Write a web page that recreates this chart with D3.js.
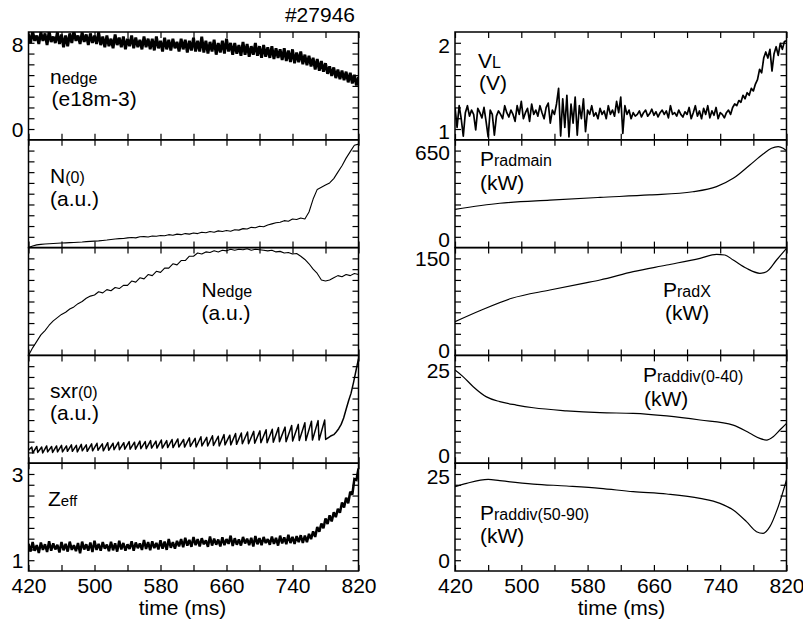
<!DOCTYPE html>
<html><head><meta charset="utf-8">
<script src="https://cdn.jsdelivr.net/npm/d3@7"></script>
<style>
body{margin:0;background:#fff}
svg{display:block}
text{font-family:"Liberation Sans",Arial,Helvetica,sans-serif;fill:#000}
</style>
</head><body>
<svg id="c" width="803" height="623"></svg>
<script>
// ---------------- DATA ----------------
const timeDomain = [420, 820];
const timeTicks = [420,460,500,540,580,620,660,700,740,780,820];
const timeLabels = [420,500,580,660,740,820];
const shotLabel = "#27946";
const xTitle = "time (ms)";

// common sample grids (ms)
const t5 = d3.range(420, 820.1, 5);
const t25 = d3.range(420, 820.1, 2.5);

// n_edge (e18 m-3), noisy trace every 2.5 ms
const nedgeDomain = [-1.0, 9.13];
const nedgeYLabels = [0, 8];
const nedge = [8.9,8.1,9.2,8.3,8.8,8.0,9.1,8.3,9.0,7.9,9.2,8.2,8.7,8.1,9.1,8.0,8.9,7.7,8.8,7.8,9.0,8.1,9.2,8.3,8.8,8.0,9.1,8.2,8.9,7.9,9.0,8.1,8.8,8.0,9.1,
  7.9,8.7,7.7,8.8,7.8,8.5,7.6,8.9,7.9,8.6,7.7,8.7,7.5,8.5,7.8,8.8,7.6,8.6,7.7,8.4,7.5,8.7,7.7,8.5,
  7.5,8.5,7.4,8.7,7.6,8.3,7.3,8.6,7.5,8.4,7.4,8.5,7.6,8.2,7.3,8.5,7.5,8.4,7.2,8.3,7.4,8.6,7.3,8.3,
  7.3,8.7,7.2,8.3,7.1,8.2,7.3,8.4,7.0,8.1,7.2,8.3,7.1,8.5,7.3,8.1,
  7.0,8.1,7.1,7.9,6.9,8.2,7.0,8.0,6.8,7.8,7.0,8.1,6.9,7.8,6.7,7.9,6.8,7.7,6.7,7.8,6.6,7.6,6.7,7.5,
  6.5,7.6,6.4,7.4,6.3,7.5,6.2,7.2,6.3,7.3,6.1,7.0,6.0,6.9,5.9,6.7,
  5.6,6.6,5.5,6.4,5.4,6.2,5.2,5.9,
  5.0,5.8,4.8,5.6,4.7,5.5,4.6,5.4,4.4,5.3,4.3,5.1,4.1,4.9];

// N(0) (a.u., 0-10), every 5 ms
const n0Domain = [0, 10];
const n0 = [0.0,0.15,0.25,0.3,0.33,0.36,0.38,0.4,0.42,0.44,0.46,0.48,0.5,0.52,0.55,0.58,0.6,0.62,0.66,0.7,
  0.75,0.8,0.83,0.85,0.9,0.93,0.9,1.0,1.02,0.98,1.08,1.05,1.12,1.1,1.2,1.15,1.25,1.2,1.3,1.25,
  1.35,1.3,1.42,1.38,1.5,1.42,1.55,1.5,1.58,1.52,1.66,1.62,1.76,1.72,1.88,1.84,1.98,1.94,2.1,2.2,
  2.3,2.35,2.5,2.45,2.65,2.6,2.75,2.65,3.3,4.5,5.4,5.6,5.8,6.0,6.4,7.0,7.6,8.3,8.9,9.5,9.6];

// N_edge (a.u., 0-10), every 5 ms
const nEdgeDomain = [0, 10];
const nEdge = [0,0.7,1.3,1.9,2.3,2.8,3.2,3.5,3.8,4.0,4.3,4.5,4.8,5.0,5.3,5.5,5.6,5.9,5.8,6.1,
  6.0,6.3,6.2,6.5,6.5,6.9,6.8,7.2,7.1,7.5,7.4,7.8,7.7,8.1,8.1,8.5,8.4,8.8,8.8,9.2,
  9.2,9.5,9.4,9.6,9.55,9.7,9.6,9.75,9.7,9.85,9.75,9.85,9.8,9.9,9.75,9.85,9.8,9.75,9.7,9.75,
  9.6,9.65,9.5,9.55,9.4,9.45,9.2,8.9,8.5,8.0,7.6,7.0,6.9,7.0,7.2,7.4,7.3,7.5,7.4,7.6,7.5];

// sxr(0) (a.u., 0-10): sawtooth crash times with peak / trough values, then final rise
const sxrDomain = [0, 10];
const sxrStart = [420, 1.2];
const sxrCrash = [424,430,436,442,448,454,460,466,472,478,484,490,496.5,503,509.5,516,522.5,529,535.5,542,
  548.5,555,561.5,568,574.5,581,587.5,594,601,608,615,622,629,636,643,650,657,664,671,678,
  685.5,693,700.5,708,715.5,723,731,739,747,755,763,771,779];
const sxrPeak = [1.5,1.55,1.5,1.6,1.55,1.6,1.65,1.6,1.7,1.65,1.75,1.7,1.8,1.85,1.8,1.9,1.85,1.95,1.9,2.0,
  1.95,2.05,2.0,2.1,2.05,2.15,2.1,2.2,2.25,2.2,2.35,2.3,2.45,2.4,2.55,2.5,2.65,2.6,2.75,2.8,
  2.9,2.95,3.0,3.1,3.15,3.3,3.35,3.5,3.6,3.75,3.9,3.95,4.0];
const sxrTrough = [0.95,1.0,0.95,1.05,1.0,1.05,1.05,1.1,1.1,1.05,1.15,1.1,1.15,1.2,1.15,1.2,1.25,1.25,1.3,1.3,
  1.3,1.35,1.35,1.4,1.4,1.4,1.45,1.45,1.5,1.5,1.55,1.5,1.6,1.6,1.65,1.6,1.7,1.7,1.75,1.8,
  1.8,1.85,1.9,1.9,1.95,2.0,2.0,2.05,2.1,2.1,2.15,2.15,2.2];
const sxrTailT = [784,787,790,793,796,799,802,805,808,811,814,817,820];
const sxrTailV = [2.4,2.55,2.65,2.9,3.2,3.6,4.2,5.0,5.8,6.5,7.5,8.6,9.7];

// Z_eff, noisy trace every 2.5 ms
const zeffDomain = [0.75, 3.25];
const zeffYLabels = [1, 3];
const zeff = [1.38,1.2,1.42,1.22,1.35,1.17,1.41,1.24,1.37,1.19,1.44,1.22,1.39,1.25,1.36,1.18,1.42,1.23,1.38,1.2,
  1.43,1.24,1.35,1.21,1.4,1.16,1.43,1.25,1.37,1.22,1.41,1.19,1.45,1.24,1.38,1.22,1.42,1.27,1.36,1.21,
  1.43,1.23,1.39,1.2,1.45,1.25,1.4,1.22,1.37,1.26,1.44,1.22,1.41,1.28,1.39,1.24,1.47,1.26,1.42,1.23,
  1.44,1.28,1.4,1.25,1.46,1.27,1.43,1.24,1.49,1.29,1.42,1.27,1.45,
  1.32,1.49,1.3,1.52,1.34,1.47,1.31,1.54,1.35,1.49,1.32,1.51,1.37,1.46,1.31,1.55,1.34,1.5,1.36,1.48,
  1.32,1.53,1.35,1.49,1.38,1.57,1.33,1.51,1.36,1.48,1.34,1.54,1.39,1.5,1.35,1.52,1.32,1.56,1.37,1.51,
  1.35,1.54,1.4,1.49,1.36,1.55,1.38,1.52,1.34,1.57,1.39,1.53,1.37,1.59,1.4,1.54,1.38,1.56,1.42,1.58,
  1.4,1.57,1.42,1.61,1.49,1.67,1.54,1.77,1.66,1.85,1.74,1.97,1.84,2.04,1.9,2.11,2.0,2.19,2.1,2.34,
  2.22,2.45,2.32,2.59,2.52,2.88,2.86,3.13];

// V_L (V), every 2.5 ms
const vlDomain = [0.907, 2.15];
const vlYLabels = [1, 2];
const vl = [1.28,1.05,1.3,1.15,0.95,1.22,1.3,1.18,1.25,1.2,
  1.02,1.27,1.22,1.16,1.28,1.12,0.94,1.25,1.2,0.96,
  1.18,1.24,1.2,1.15,1.3,1.22,1.17,1.25,1.2,1.12,
  1.3,1.2,1.35,1.15,1.22,1.27,1.12,1.32,1.2,1.25,
  1.18,1.3,1.22,1.15,1.28,1.33,1.1,1.25,1.2,1.32,
  1.5,0.95,1.38,1.05,1.42,0.94,1.32,1.1,1.4,0.96,
  1.3,1.15,1.38,1.0,1.25,1.2,1.3,1.18,1.22,1.15,
  1.27,1.2,1.24,1.15,1.3,1.2,1.25,1.18,1.35,1.22,
  1.4,0.98,1.3,1.2,1.25,1.15,1.22,1.18,1.2,1.24,
  1.17,1.22,1.25,1.18,1.21,1.26,1.19,1.23,1.17,1.22,
  1.25,1.2,1.24,1.16,1.3,1.2,1.22,1.18,1.25,1.2,
  1.17,1.23,1.2,1.28,1.15,1.22,1.3,1.18,1.24,1.15,
  1.27,1.2,1.3,1.16,1.24,1.19,1.28,1.15,1.22,1.2,
  1.16,1.22,1.25,1.2,1.28,1.32,1.3,1.36,1.34,1.42,
  1.38,1.45,1.42,1.5,1.47,1.55,1.6,1.72,1.68,1.85,
  1.92,1.85,1.95,1.7,1.9,1.98,1.88,2.02,1.95,2.04,
  2.05];

// P_rad main (kW)
const pmainDomain = [-64, 741];
const pmainYLabels = [0, 650];
const pmainT = [420,474,534.5,595,655,707,735.6,755.7,775.8,791.8,801.9,810,816,820];
const pmainV = [222,267,291,311,329,353,391,453,553,635,678,690,678,660];

// P_rad X (kW)
const pxDomain = [-8.8, 167.5];
const pxYLabels = [0, 150];
const pxT = [420,452,488.5,534.5,574.7,595,635,675.5,715.7,735.6,745.6,755.7,771.7,787.8,795.9,808,820];
const pxV = [46.3,65.4,84.6,98.1,109.1,114.5,128.1,139,150,156.5,155.4,147.2,133.6,125.5,128.1,147.2,166.4];

// P_rad div (0-40) (kW)
const pd1Domain = [-2.4, 29.3];
const pd1YLabels = [0, 25];
const pd1T = [420,430,442,458,474,494,514.5,554.7,595,635,675.5,715.7,755.7,775.8,787.8,795.9,804,812,820];
const pd1V = [25,23,20.1,17.1,15.7,14.7,13.9,13.0,12.45,12.25,11.5,10.3,8.8,6.4,4.9,4.4,5.4,7.35,9.3];

// P_rad div (50-90) (kW)
const pd2Domain = [-3.3, 29.05];
const pd2YLabels = [0, 25];
const pd2T = [420,434,460,474,514.5,554.7,595,635,675.5,715.7,739.8,755.7,771.7,783.8,791.8,799.9,810,820];
const pd2V = [22,23,24.2,23.8,22.8,22.2,21.5,20.5,19.8,18.5,17,15,11.5,8.5,8,10,16,24];

// ---------------- LAYOUT ----------------
const L = {cols:[[28.5,358.5],[455,786.5]], top:32, h:107.8, tick:6, font:21};

const sxrPts = [sxrStart];
sxrCrash.forEach((c,k)=>{ sxrPts.push([c, sxrPeak[k]]); sxrPts.push([c+1.2, sxrTrough[k]]); });
sxrTailT.forEach((t,k)=>sxrPts.push([t, sxrTailV[k]]));

const panels = [
  {col:0,row:0,domain:nedgeDomain,yl:nedgeYLabels,pts:t25.map((t,k)=>[t,nedge[k]]),sw:2.9,join:"miter",
   title:[{x:50,y:84,p:[["n",21],["edge",16]]},{x:51.5,y:106,p:[["(e18m-3)",21]]}]},
  {col:0,row:1,domain:n0Domain,yl:[],pts:t5.map((t,k)=>[t,n0[k]]),sw:1.1,
   title:[{x:50,y:183,p:[["N",21],["(0)",16]]},{x:50,y:206,p:[["(a.u.)",21]]}]},
  {col:0,row:2,domain:nEdgeDomain,yl:[],pts:t5.map((t,k)=>[t,nEdge[k]]),sw:1.1,
   title:[{x:201.5,y:297,p:[["N",21],["edge",16]]},{x:201.5,y:320,p:[["(a.u.)",21]]}]},
  {col:0,row:3,domain:sxrDomain,yl:[],pts:sxrPts,sw:1.5,
   title:[{x:50,y:398,p:[["sxr",21],["(0)",16]]},{x:50,y:420,p:[["(a.u.)",21]]}]},
  {col:0,row:4,domain:zeffDomain,yl:zeffYLabels,pts:t25.map((t,k)=>[t,zeff[k]]),sw:2.5,join:"miter",
   title:[{x:48,y:506,p:[["Z",21],["eff",15]]}]},
  {col:1,row:0,domain:vlDomain,yl:vlYLabels,pts:t25.map((t,k)=>[t,vl[k]]),sw:1.7,
   title:[{x:478,y:68,p:[["V",21],["L",16]]},{x:479,y:90,p:[["(V)",21]]}]},
  {col:1,row:1,domain:pmainDomain,yl:pmainYLabels,pts:pmainT.map((t,k)=>[t,pmainV[k]]),sw:1.2,curve:true,
   title:[{x:480,y:166,p:[["P",21],["radmain",16]]},{x:480,y:190,p:[["(kW)",21]]}]},
  {col:1,row:2,domain:pxDomain,yl:pxYLabels,pts:pxT.map((t,k)=>[t,pxV[k]]),sw:1.2,curve:true,
   title:[{x:663,y:297,p:[["P",21],["radX",16]]},{x:665,y:320,p:[["(kW)",21]]}]},
  {col:1,row:3,domain:pd1Domain,yl:pd1YLabels,pts:pd1T.map((t,k)=>[t,pd1V[k]]),sw:1.2,curve:true,
   title:[{x:643,y:382,p:[["P",21],["raddiv(0-40)",16]]},{x:644,y:406,p:[["(kW)",21]]}]},
  {col:1,row:4,domain:pd2Domain,yl:pd2YLabels,pts:pd2T.map((t,k)=>[t,pd2V[k]]),sw:1.2,curve:true,
   title:[{x:480,y:520,p:[["P",21],["raddiv(50-90)",16]]},{x:480,y:543,p:[["(kW)",21]]}]}
];

// ---------------- DRAW ----------------
const svg = d3.select("#c");
const defs = svg.append("defs");
const xs = L.cols.map(r => d3.scaleLinear().domain(timeDomain).range(r));

function styleAxis(g){
  g.select(".domain").remove();
  g.selectAll(".tick line").attr("stroke","#000").attr("stroke-width",1.2);
  g.attr("font-family",null).attr("font-size",null);
}

panels.forEach((p,i)=>{
  const [xa,xb] = L.cols[p.col];
  const x = xs[p.col];
  const yt = L.top + p.row*L.h, yb = yt + L.h;
  const y = d3.scaleLinear().domain(p.domain).range([yb,yt]);
  const g = svg.append("g");

  defs.append("clipPath").attr("id","cl"+i).append("rect")
    .attr("x",xa).attr("y",yt).attr("width",xb-xa).attr("height",yb-yt);
  const dg = g.append("g").attr("clip-path",`url(#cl${i})`);

  const line = d3.line().x(d=>x(d[0])).y(d=>y(d[1]));
  if(p.curve) line.curve(d3.curveMonotoneX);
  dg.append("path").datum(p.pts).attr("d", line)
    .attr("fill","none").attr("stroke","#000").attr("stroke-width",p.sw)
    .attr("stroke-linejoin",p.join||"round").attr("stroke-miterlimit",2);

  // x ticks on top and bottom edges (inward)
  g.append("g").attr("transform",`translate(0,${yt})`)
    .call(d3.axisTop(x).tickValues(timeTicks).tickSize(-L.tick).tickFormat(""))
    .call(styleAxis);
  const last = p.row===4;
  const bx = g.append("g").attr("transform",`translate(0,${yb})`)
    .call(d3.axisBottom(x).tickValues(timeTicks).tickSize(-L.tick).tickPadding(7)
      .tickFormat(d => last && timeLabels.includes(d) ? d : ""))
    .call(styleAxis);
  bx.selectAll("text").attr("font-size",L.font).attr("fill","#000");

  // y minor ticks: evenly spaced, both sides, inward
  const yTicks = d3.range(1,10).map(k => p.domain[0] + (p.domain[1]-p.domain[0])*k/10);
  g.append("g").attr("transform",`translate(${xa},0)`)
    .call(d3.axisLeft(y).tickValues(yTicks).tickSize(-L.tick).tickFormat("")).call(styleAxis);
  g.append("g").attr("transform",`translate(${xb},0)`)
    .call(d3.axisRight(y).tickValues(yTicks).tickSize(-L.tick).tickFormat("")).call(styleAxis);

  // frame
  g.append("rect").attr("x",xa).attr("y",yt).attr("width",xb-xa).attr("height",yb-yt)
    .attr("fill","none").attr("stroke","#000").attr("stroke-width",1.5);

  // y labels
  g.selectAll(".yl").data(p.yl).enter().append("text")
    .attr("x", xa-5).attr("y", d=>y(d)).attr("dy","0.36em")
    .attr("text-anchor","end").attr("font-size",L.font).text(d=>d);

  // titles
  p.title.forEach(tl=>{
    const t = g.append("text").attr("x",tl.x).attr("y",tl.y);
    tl.p.forEach(([s,fs])=>t.append("tspan").attr("font-size",fs).text(s));
  });
});

// x titles and shot number
svg.append("text").attr("x",182.5).attr("y",615).attr("text-anchor","middle").attr("font-size",L.font).text(xTitle);
svg.append("text").attr("x",621.5).attr("y",615).attr("text-anchor","middle").attr("font-size",L.font).text(xTitle);
svg.append("text").attr("x",355).attr("y",22).attr("text-anchor","end").attr("font-size",L.font).text(shotLabel);
</script>
</body></html>
